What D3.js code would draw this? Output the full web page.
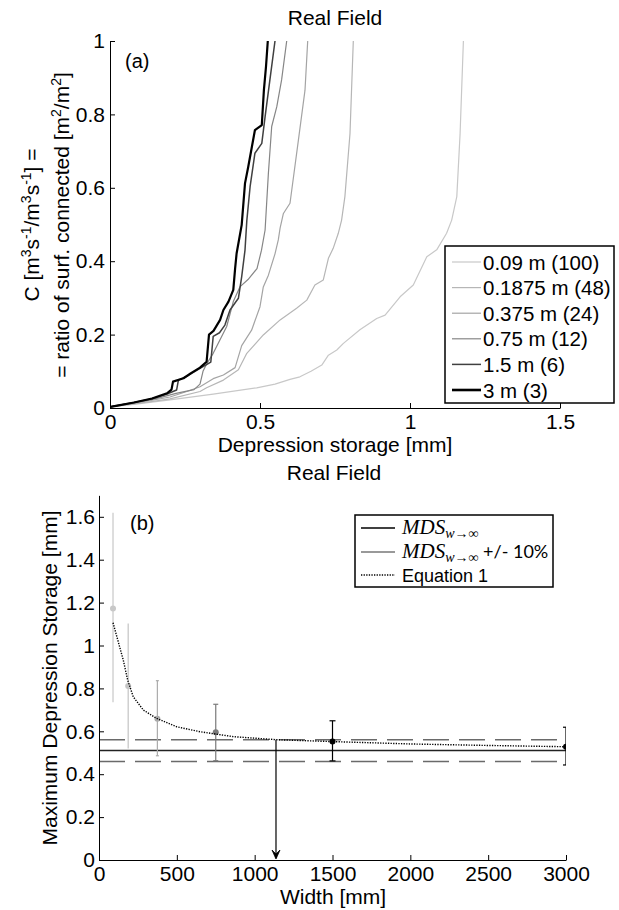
<!DOCTYPE html>
<html>
<head>
<meta charset="utf-8">
<script src="https://cdn.jsdelivr.net/npm/d3@7/dist/d3.min.js"></script>
<style>
  body { margin: 0; background: #fff; }
  svg text { font-family: "Liberation Sans", Arial, sans-serif; fill: #000; }
  .axis path, .axis line { stroke: #000; }
</style>
</head>
<body>
<script>
// ---- panel (a): connectivity curves, x = depression storage [mm], y = C
var seriesNames = ["0.09 m (100)", "0.1875 m (48)", "0.375 m (24)", "0.75 m (12)", "1.5 m (6)", "3 m (3)"];
var seriesColors = ["#c8c8c8", "#b6b6b6", "#a4a4a4", "#868686", "#404040", "#000000"];
var seriesWidths = [1.2, 1.2, 1.2, 1.2, 1.5, 2.2];

var curve009 = [[0,0.003],[0.1,0.012],[0.2,0.022],[0.344,0.038],[0.489,0.055],[0.55,0.065],[0.6,0.078],[0.633,0.085],[0.67,0.1],[0.706,0.117],[0.728,0.144],[0.756,0.158],[0.778,0.176],[0.833,0.213],[0.889,0.244],[0.917,0.253],[0.967,0.303],[1.011,0.335],[1.056,0.412],[1.089,0.431],[1.122,0.476],[1.139,0.512],[1.156,0.576],[1.167,0.748],[1.178,1.0]];
var curve01875 = [[0,0.003],[0.1,0.013],[0.2,0.025],[0.3,0.045],[0.322,0.055],[0.378,0.076],[0.428,0.104],[0.456,0.149],[0.511,0.199],[0.567,0.24],[0.622,0.272],[0.656,0.294],[0.683,0.335],[0.711,0.349],[0.728,0.408],[0.744,0.435],[0.761,0.476],[0.772,0.512],[0.783,0.576],[0.8,0.748],[0.811,1.0]];
var curve0375 = [[0,0.003],[0.1,0.015],[0.2,0.03],[0.256,0.045],[0.3,0.058],[0.344,0.08],[0.378,0.09],[0.417,0.11],[0.439,0.17],[0.472,0.212],[0.5,0.276],[0.511,0.33],[0.528,0.362],[0.55,0.42],[0.561,0.458],[0.567,0.49],[0.578,0.53],[0.6,0.558],[0.628,0.73],[0.65,0.866],[0.659,1.0]];
var curve075 = [[0,0.003],[0.08,0.015],[0.15,0.025],[0.22,0.04],[0.28,0.05],[0.3,0.065],[0.31,0.1],[0.322,0.12],[0.344,0.149],[0.389,0.222],[0.411,0.29],[0.433,0.33],[0.46,0.35],[0.49,0.38],[0.505,0.43],[0.517,0.485],[0.528,0.64],[0.539,0.767],[0.556,0.821],[0.572,0.894],[0.589,1.0]];
var curve15 = [[0,0.003],[0.02,0.006],[0.08,0.015],[0.14,0.025],[0.19,0.038],[0.222,0.049],[0.228,0.076],[0.26,0.088],[0.3,0.108],[0.336,0.125],[0.344,0.195],[0.365,0.205],[0.383,0.226],[0.4,0.267],[0.428,0.299],[0.439,0.358],[0.45,0.43],[0.456,0.51],[0.467,0.603],[0.483,0.694],[0.506,0.721],[0.517,0.794],[0.533,0.894],[0.55,1.0]];
var curve3 = [[0,0.003],[0.02,0.006],[0.08,0.015],[0.14,0.026],[0.19,0.04],[0.205,0.05],[0.21,0.072],[0.245,0.081],[0.27,0.095],[0.3,0.11],[0.322,0.126],[0.33,0.2],[0.345,0.21],[0.367,0.24],[0.378,0.267],[0.395,0.29],[0.411,0.322],[0.417,0.38],[0.422,0.421],[0.439,0.499],[0.45,0.612],[0.461,0.658],[0.483,0.757],[0.506,0.771],[0.513,0.866],[0.52,0.93],[0.526,1.0]];
var curvesA = [curve009, curve01875, curve0375, curve075, curve15, curve3];

var xTicksA = [0, 0.5, 1, 1.5];
var yTicksA = [0, 0.2, 0.4, 0.6, 0.8, 1];

// ---- panel (b): maximum depression storage vs width
var widths = [90, 187.5, 375, 750, 1500, 3000];
var mdsMean = [1.173, 0.811, 0.659, 0.595, 0.553, 0.528];
var mdsHigh = [1.619, 1.103, 0.836, 0.726, 0.649, 0.619];
var mdsLow = [0.735, 0.52, 0.486, 0.463, 0.462, 0.443];
var pointColors = ["#c8c8c8", "#c4c4c4", "#ababab", "#7a7a7a", "#000000", "#000000"];
var capHalf = [0, 0, 1.5, 2.5, 3, 3];

var mdsInf = 0.51;
var mdsBand = [0.459, 0.561];
var eqWidths = [90, 156, 184, 220, 285, 370, 499, 649, 863, 1137, 1500, 2000, 2500, 3000];
var eqValues = [1.106, 0.932, 0.839, 0.761, 0.699, 0.66, 0.621, 0.598, 0.575, 0.561, 0.552, 0.541, 0.534, 0.528];
var arrowWidth = 1137;

var xTicksB = [0, 500, 1000, 1500, 2000, 2500, 3000];
var yTicksB = [0, 0.2, 0.4, 0.6, 0.8, 1, 1.2, 1.4, 1.6];

var svg = d3.select("body").append("svg")
  .attr("width", 619).attr("height", 910);

var defs = svg.append("defs");

// ================= panel (a)
var xa = d3.scaleLinear().domain([0, 1.5]).range([110, 560]);
var ya = d3.scaleLinear().domain([0, 1]).range([408, 41]);

defs.append("clipPath").attr("id", "clipA").append("rect")
  .attr("x", 110).attr("y", 41).attr("width", 450).attr("height", 367);

var gA = svg.append("g");

var lineA = d3.line()
  .x(function(d) { return xa(d[0]); })
  .y(function(d) { return ya(d[1]); });

gA.append("g").attr("clip-path", "url(#clipA)")
  .selectAll("path").data(curvesA).enter().append("path")
    .attr("d", lineA)
    .attr("fill", "none")
    .attr("stroke", function(d, i) { return seriesColors[i]; })
    .attr("stroke-width", function(d, i) { return seriesWidths[i]; })
    .attr("stroke-linejoin", "round");

gA.append("g").attr("class", "axis")
  .attr("transform", "translate(0,408)")
  .call(d3.axisBottom(xa).tickValues(xTicksA).tickFormat(function(d) { return String(d); })
    .tickSize(-5).tickSizeOuter(0).tickPadding(6))
  .selectAll("text").attr("font-size", 21).attr("dy", "0.72em");

gA.append("g").attr("class", "axis")
  .attr("transform", "translate(110,0)")
  .call(d3.axisLeft(ya).tickValues(yTicksA).tickFormat(function(d) { return String(d); })
    .tickSize(-5).tickSizeOuter(0).tickPadding(5))
  .selectAll("text").attr("font-size", 21);

svg.selectAll(".axis .domain").attr("stroke-width", 1);

gA.append("text").attr("x", 335).attr("y", 25).attr("text-anchor", "middle")
  .attr("font-size", 21).text("Real Field");
gA.append("text").attr("x", 125).attr("y", 68).attr("font-size", 20).text("(a)");
gA.append("text").attr("x", 335).attr("y", 452).attr("text-anchor", "middle")
  .attr("font-size", 21).text("Depression storage [mm]");

var yl1 = gA.append("text").attr("transform", "translate(39,225) rotate(-90)")
  .attr("text-anchor", "middle").attr("font-size", 21);
yl1.append("tspan").text("C [m");
yl1.append("tspan").attr("dy", -8).attr("font-size", 14).text("3");
yl1.append("tspan").attr("dy", 8).text("s");
yl1.append("tspan").attr("dy", -8).attr("font-size", 14).text("-1");
yl1.append("tspan").attr("dy", 8).text("/m");
yl1.append("tspan").attr("dy", -8).attr("font-size", 14).text("3");
yl1.append("tspan").attr("dy", 8).text("s");
yl1.append("tspan").attr("dy", -8).attr("font-size", 14).text("-1");
yl1.append("tspan").attr("dy", 8).text("] =");

var yl2 = gA.append("text").attr("transform", "translate(69,225) rotate(-90)")
  .attr("text-anchor", "middle").attr("font-size", 21);
yl2.append("tspan").text("= ratio of surf. connected [m");
yl2.append("tspan").attr("dy", -8).attr("font-size", 14).text("2");
yl2.append("tspan").attr("dy", 8).text("/m");
yl2.append("tspan").attr("dy", -8).attr("font-size", 14).text("2");
yl2.append("tspan").attr("dy", 8).text("]");

// legend (a)
var legA = gA.append("g");
legA.append("rect").attr("x", 445).attr("y", 246).attr("width", 169).attr("height", 157)
  .attr("fill", "#fff").attr("stroke", "#000").attr("stroke-width", 1.5);
var legItems = legA.selectAll("g.item").data(seriesNames).enter().append("g")
  .attr("transform", function(d, i) { return "translate(0," + (262 + i * 25.6) + ")"; });
legItems.append("line").attr("x1", 452).attr("x2", 481).attr("y1", 0).attr("y2", 0)
  .attr("stroke", function(d, i) { return seriesColors[i]; })
  .attr("stroke-width", function(d, i) { return i === 5 ? 2.6 : seriesWidths[i]; });
legItems.append("text").attr("x", 483).attr("y", 7.5).attr("font-size", 20.5)
  .text(function(d) { return d; });

// ================= panel (b)
var xb = d3.scaleLinear().domain([0, 3000]).range([99, 566]);
var yb = d3.scaleLinear().domain([0, 1.7]).range([860, 860 - 1.7 * 214.5]);

defs.append("clipPath").attr("id", "clipB").append("rect")
  .attr("x", 99).attr("y", yb(1.7)).attr("width", 467).attr("height", 860 - yb(1.7));

var gB = svg.append("g");
var plotB = gB.append("g").attr("clip-path", "url(#clipB)");

// reference lines
plotB.append("line").attr("x1", xb(0)).attr("x2", xb(3000))
  .attr("y1", yb(mdsInf)).attr("y2", yb(mdsInf))
  .attr("stroke", "#222").attr("stroke-width", 1.5);
plotB.selectAll("line.band").data(mdsBand).enter().append("line").attr("class", "band")
  .attr("x1", xb(0)).attr("x2", xb(3000))
  .attr("y1", function(d) { return yb(d); }).attr("y2", function(d) { return yb(d); })
  .attr("stroke", "#6a6a6a").attr("stroke-width", 1.5).attr("stroke-dasharray", "26,10");

// error bars
var ebData = widths.map(function(w, i) {
  return { w: w, m: mdsMean[i], hi: mdsHigh[i], lo: mdsLow[i], c: pointColors[i], cap: capHalf[i] };
});
var eb = plotB.selectAll("g.eb").data(ebData).enter().append("g").attr("class", "eb");
eb.append("line")
  .attr("x1", function(d) { return xb(d.w); }).attr("x2", function(d) { return xb(d.w); })
  .attr("y1", function(d) { return yb(d.hi); }).attr("y2", function(d) { return yb(d.lo); })
  .attr("stroke", function(d) { return d.c; }).attr("stroke-width", 1.2);
["hi", "lo"].forEach(function(k) {
  eb.append("line")
    .attr("x1", function(d) { return xb(d.w) - d.cap; }).attr("x2", function(d) { return xb(d.w) + d.cap; })
    .attr("y1", function(d) { return yb(d[k]); }).attr("y2", function(d) { return yb(d[k]); })
    .attr("stroke", function(d) { return d.c; }).attr("stroke-width", 1.2);
});

// Equation 1 curve
var lineB = d3.line()
  .x(function(d, i) { return xb(eqWidths[i]); })
  .y(function(d) { return yb(d); });
plotB.append("path").datum(eqValues).attr("d", lineB)
  .attr("fill", "none").attr("stroke", "#000").attr("stroke-width", 1.4)
  .attr("stroke-dasharray", "1.3,1.3");

eb.append("circle")
  .attr("cx", function(d) { return xb(d.w); }).attr("cy", function(d) { return yb(d.m); })
  .attr("r", 3).attr("fill", function(d) { return d.c; });

// arrow
var ax = xb(arrowWidth);
gB.append("line").attr("x1", ax).attr("x2", ax)
  .attr("y1", yb(mdsBand[1])).attr("y2", yb(0) - 2)
  .attr("stroke", "#000").attr("stroke-width", 1.2);
gB.append("path")
  .attr("d", "M" + (ax - 4) + "," + (yb(0) - 10) + " L" + ax + "," + (yb(0) - 1) +
    " L" + (ax + 4) + "," + (yb(0) - 10) + " L" + ax + "," + (yb(0) - 6) + "Z")
  .attr("fill", "#000").attr("stroke", "#000").attr("stroke-width", 0.8);

gB.append("g").attr("class", "axis")
  .attr("transform", "translate(0,860)")
  .call(d3.axisBottom(xb).tickValues(xTicksB).tickFormat(function(d) { return String(d); })
    .tickSize(-5).tickSizeOuter(0).tickPadding(6))
  .selectAll("text").attr("font-size", 21).attr("dy", "0.72em");

gB.append("g").attr("class", "axis")
  .attr("transform", "translate(99,0)")
  .call(d3.axisLeft(yb).tickValues(yTicksB).tickFormat(function(d) { return String(d); })
    .tickSize(-5).tickSizeOuter(0).tickPadding(4))
  .selectAll("text").attr("font-size", 21);

svg.selectAll(".axis .domain").attr("stroke-width", 1);

gB.append("text").attr("x", 334).attr("y", 480).attr("text-anchor", "middle")
  .attr("font-size", 21).text("Real Field");
gB.append("text").attr("x", 130).attr("y", 530).attr("font-size", 20).text("(b)");
gB.append("text").attr("x", 333).attr("y", 904).attr("text-anchor", "middle")
  .attr("font-size", 21).text("Width [mm]");
gB.append("text").attr("transform", "translate(57,678) rotate(-90)")
  .attr("text-anchor", "middle").attr("font-size", 21).text("Maximum Depression Storage [mm]");

// legend (b)
var legB = gB.append("g");
legB.append("rect").attr("x", 355).attr("y", 515).attr("width", 198).attr("height", 72)
  .attr("fill", "#fff").attr("stroke", "#000").attr("stroke-width", 1.5);
var legBLines = [
  { y: 528, stroke: "#000", dash: null },
  { y: 552, stroke: "#777", dash: null },
  { y: 575, stroke: "#000", dash: "1.3,1.3" }
];
legB.selectAll("line").data(legBLines).enter().append("line")
  .attr("x1", 361).attr("x2", 395)
  .attr("y1", function(d) { return d.y; }).attr("y2", function(d) { return d.y; })
  .attr("stroke", function(d) { return d.stroke; }).attr("stroke-width", 1.4)
  .attr("stroke-dasharray", function(d) { return d.dash; });

function mdsLabel(y, extra) {
  var t = legB.append("text").attr("x", 402).attr("y", y);
  t.append("tspan").attr("font-family", "'Liberation Serif', 'DejaVu Serif', serif")
    .attr("font-style", "italic").attr("font-size", 21).text("MDS");
  t.append("tspan").attr("font-family", "'Liberation Serif', 'DejaVu Serif', serif")
    .attr("font-style", "italic").attr("font-size", 14).attr("dy", 4).text("w→∞");
  if (extra) {
    t.append("tspan").attr("font-family", "Lato, 'Open Sans', sans-serif")
      .attr("font-size", 18).attr("dy", -4).text(" " + extra);
  }
}
mdsLabel(534, null);
mdsLabel(558, "+/- 10%");
legB.append("text").attr("x", 402).attr("y", 582)
  .attr("font-family", "Lato, 'Open Sans', sans-serif").attr("font-size", 18).text("Equation 1");
</script>
</body>
</html>
